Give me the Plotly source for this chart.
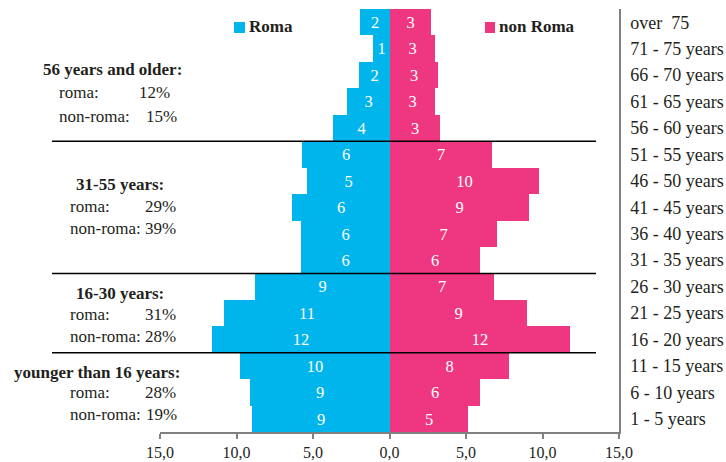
import plotly.graph_objects as go

# ---- data (top row first) ----
age_groups = ["over  75", "71 - 75 years", "66 - 70 years", "61 - 65 years", "56 - 60 years",
              "51 - 55 years", "46 - 50 years", "41 - 45 years", "36 - 40 years", "31 - 35 years",
              "26 - 30 years", "21 - 25 years", "16 - 20 years", "11 - 15 years", "6 - 10 years",
              "1 - 5 years"]
roma = [1.9, 1.1, 2.0, 2.8, 3.7, 5.7, 5.4, 6.4, 5.8, 5.8, 8.8, 10.8, 11.6, 9.8, 9.1, 9.0]
non_roma = [2.7, 3.0, 3.2, 3.0, 3.3, 6.7, 9.8, 9.1, 7.0, 5.9, 6.8, 9.0, 11.8, 7.8, 5.9, 5.1]
roma_labels = ["2", "1", "2", "3", "4", "6", "5", "6", "6", "6", "9", "11", "12", "10", "9", "9"]
non_roma_labels = ["3", "3", "3", "3", "3", "7", "10", "9", "7", "6", "7", "9", "12", "8", "6", "5"]
x_tick_vals = [-15, -10, -5, 0, 5, 10, 15]
x_tick_text = ["15,0", "10,0", "5,0", "0,0", "5,0", "10,0", "15,0"]
group_titles = ["56 years and older:", "31-55 years:", "16-30 years:", "younger than 16 years:"]
group_roma = ["12%", "29%", "31%", "28%"]
group_non_roma = ["15%", "39%", "28%", "19%"]
separators = [4.5, 9.5, 12.5]

ROMA_C = "#00B4EC"
NON_C = "#EE3780"
FONT = "Liberation Serif"

# plot area in pixels
L, R, T, B = 160, 619, 9, 432
W, H = 726, 462


def px(x):
    return (x - L) / (R - L)


def py(y):
    return (B - y) / (B - T)


fig = go.Figure()
fig.add_trace(go.Bar(
    y=age_groups, x=[-v for v in roma], orientation="h", name="Roma",
    marker=dict(color=ROMA_C, line=dict(width=0)),
    text=roma_labels, textposition="inside", insidetextanchor="middle",
    textfont=dict(color="white", size=16.5, family=FONT), textangle=0,
))
fig.add_trace(go.Bar(
    y=age_groups, x=non_roma, orientation="h", name="non Roma",
    marker=dict(color=NON_C, line=dict(width=0)),
    text=non_roma_labels, textposition="inside", insidetextanchor="middle",
    textfont=dict(color="white", size=16.5, family=FONT), textangle=0,
))

shapes = []
for s in separators:
    shapes.append(dict(type="line", xref="paper", yref="y", x0=px(52), x1=px(596), y0=s, y1=s,
                       line=dict(color="black", width=1.5)))
# legend squares
shapes.append(dict(type="rect", xref="paper", yref="paper", x0=px(234), x1=px(245), y0=py(33), y1=py(22),
                   fillcolor=ROMA_C, line=dict(width=0)))
shapes.append(dict(type="rect", xref="paper", yref="paper", x0=px(485), x1=px(495), y0=py(33), y1=py(22),
                   fillcolor=NON_C, line=dict(width=0)))

ann = []
ann.append(dict(text="<b>Roma</b>", x=px(247), y=py(27), xanchor="left", yanchor="middle"))
ann.append(dict(text="<b>non Roma</b>", x=px(497), y=py(27), xanchor="left", yanchor="middle"))

# group annotations: (title x, title y, label x, roma y, non-roma y, pct x roma, pct x non)
layout_pos = [
    (41, 69, 57, 93, 116, 137, 144),
    (74, 184, 68, 206, 228, 143, 143),
    (74, 293, 68, 314, 336, 143, 143),
    (12, 372, 68, 392, 414, 143, 144),
]
for i, (tx, ty, lx, ry, ny, prx, pnx) in enumerate(layout_pos):
    ann.append(dict(text="<b>" + group_titles[i] + "</b>", x=px(tx), y=py(ty), xanchor="left", yanchor="middle"))
    ann.append(dict(text="roma:", x=px(lx), y=py(ry), xanchor="left", yanchor="middle"))
    ann.append(dict(text=group_roma[i], x=px(prx), y=py(ry), xanchor="left", yanchor="middle"))
    ann.append(dict(text="non-roma:", x=px(lx), y=py(ny), xanchor="left", yanchor="middle"))
    ann.append(dict(text=group_non_roma[i], x=px(pnx), y=py(ny), xanchor="left", yanchor="middle"))

for a in ann:
    a.update(xref="paper", yref="paper", showarrow=False,
             font=dict(family=FONT, size=17, color="#231F20"))

fig.update_layout(
    width=W, height=H,
    margin=dict(l=L, r=W - R, t=T, b=H - B),
    paper_bgcolor="white", plot_bgcolor="white",
    barmode="relative", bargap=0,
    showlegend=False,
    uniformtext=dict(minsize=16, mode="show"),
    font=dict(family=FONT, color="#231F20"),
    shapes=shapes, annotations=ann,
    xaxis=dict(range=[-15, 15], tickvals=x_tick_vals, ticktext=x_tick_text, automargin=False,
               showgrid=False, zeroline=False, showline=True, linecolor="#808080", linewidth=1.5,
               ticks="outside", ticklen=5, tickcolor="#808080", tickwidth=1.5,
               tickfont=dict(family=FONT, size=16, color="#231F20"), fixedrange=True),
    yaxis=dict(type="category", range=[15.5, -0.5], side="right", automargin=False,
               showgrid=False, zeroline=False, showline=True, linecolor="#808080", linewidth=1.5,
               ticks="", ticklabelstandoff=6,
               tickfont=dict(family=FONT, size=18, color="#231F20"), fixedrange=True),
)

fig.write_html("out.html", config={"displayModeBar": False},
               post_script="document.body.style.margin='0px';")
